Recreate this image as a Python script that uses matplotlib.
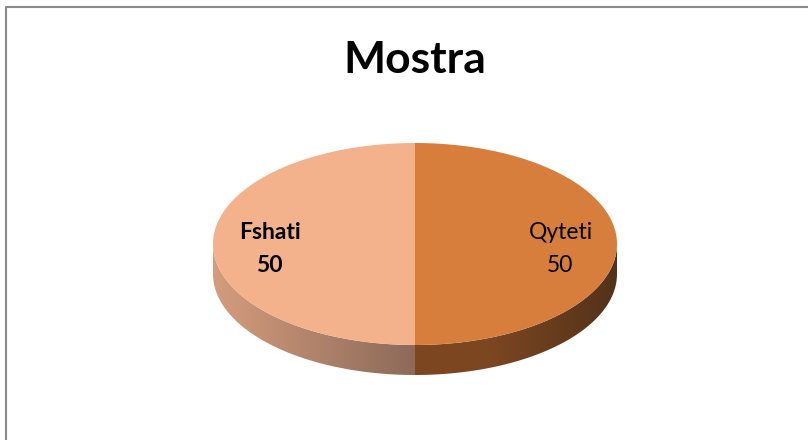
import numpy as np
from matplotlib import pyplot as plt
from matplotlib.patches import Polygon
from matplotlib.colors import to_rgb

# ---- data ----
categories = ["Qyteti", "Fshati"]
values = [50, 50]
title = "Mostra"

top_colors = ["#D77E3C", "#F4B28C"]
side_colors = [("#7C4621", "#53321A"), ("#D59C7D", "#8C6A59")]
label_weights = ["normal", "bold"]

# ---- geometry (pixel space) ----
W, H = 808, 440
cx, cy = 415, 244
rx, ry = 202, 101
depth = 30

fig = plt.figure(figsize=(W / 100, H / 100), dpi=100)
ax = fig.add_axes([0, 0, 1, 1])
ax.set_xlim(0, W)
ax.set_ylim(H, 0)
ax.axis("off")


def arc(t0, t1, n=200, dy=0):
    t = np.radians(np.linspace(t0, t1, n))
    return np.column_stack([cx + rx * np.cos(t), cy + ry * np.sin(t) + dy])


# frame
ax.plot([6, 6, W], [H, 7, 7], color="#8A8A8A", lw=1.5, solid_capstyle="butt")

total = sum(values)
start = -90.0
for name, val, tc, sc, fw in zip(categories, values, top_colors, side_colors, label_weights):
    t0, t1 = start, start + 360.0 * val / total
    start = t1

    # front side (visible between 0 and 180 deg, y pointing down)
    f0, f1 = max(t0, 0), min(t1, 180)
    if f1 > f0:
        upper = arc(f0, f1)
        lower = arc(f1, f0, dy=depth)
        side = Polygon(np.vstack([upper, lower]), closed=True, facecolor="none", edgecolor="none")
        ax.add_patch(side)
        xs = np.concatenate([upper[:, 0], lower[:, 0]])
        x_lo, x_hi = xs.min(), xs.max()
        c_a, c_b = np.array(to_rgb(sc[0])), np.array(to_rgb(sc[1]))
        s = np.linspace(0, 1, 256)
        if f0 < 90:
            s = np.clip(s * 1.6, 0, 1)
            grad = c_b[None, :] * (1 - s[:, None]) + c_a[None, :] * s[:, None]
            grad = grad[::-1]
        else:
            grad = c_a[None, :] * (1 - s[:, None]) + c_b[None, :] * s[:, None]
        img = ax.imshow(grad[None, :, :], extent=[x_lo, x_hi, cy + ry + depth + 2, cy - 2],
                        aspect="auto", interpolation="bilinear", zorder=1)
        img.set_clip_path(side)

    # top face
    pts = np.vstack([[cx, cy], arc(t0, t1)])
    ax.add_patch(Polygon(pts, closed=True, facecolor=tc, edgecolor="none", zorder=2))

    # label
    tm = np.radians((t0 + t1) / 2)
    lx = cx + 0.72 * rx * np.cos(tm)
    ly = cy + 0.72 * ry * np.sin(tm) + 5
    ax.text(lx, ly, f"{name}\n{val}", ha="center", va="center", fontsize=16.5,
            fontweight=fw, family="Lato", linespacing=1.7, color="black", zorder=3)

ax.set_ylim(H, 0)
ax.set_xlim(0, W)
ax.text(W / 2 + 11, 60, title, ha="center", va="center", fontsize=32,
        fontweight="bold", family="Lato")

fig.savefig("out.png", dpi=100)
